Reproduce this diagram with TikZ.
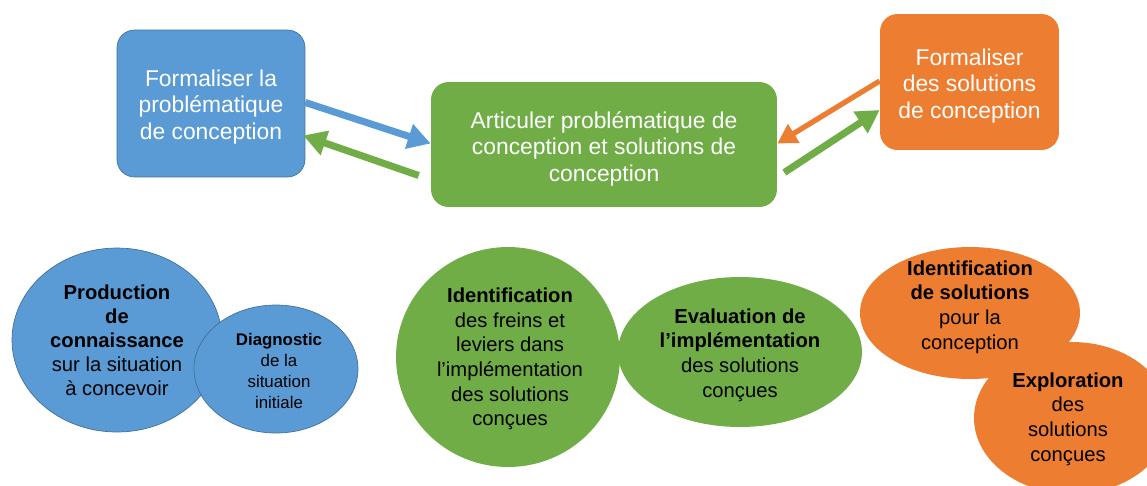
\documentclass[tikz,border=0pt]{standalone}
\usepackage{fontspec}
\setmainfont{Liberation Sans}
\usepackage{tikz}
\usetikzlibrary{shapes.geometric, arrows.meta, positioning, calc}
\definecolor{probcolor}{RGB}{91,155,213}
\definecolor{probline}{RGB}{65,113,156}
\definecolor{articolor}{RGB}{112,173,71}
\definecolor{solcolor}{RGB}{237,125,49}

\begin{document}
\begin{tikzpicture}[
    x=0.02cm, y=-0.02cm,
    task/.style={rounded corners=10pt, text=white, align=center, font=\fontsize{13}{15}\selectfont},
    bubble/.style={ellipse, inner sep=0pt},
    bubtext/.style={align=center, font=\fontsize{11.5}{14}\selectfont},
    flow/.style={line width=4pt, -{Triangle[length=13pt,width=14pt]}},
    thinflow/.style={line width=3pt, -{Triangle[length=11pt,width=12pt]}}
]
    \useasboundingbox (0,0) rectangle (1147,485);
    \clip (0,0) rectangle (1147,485);

    % Tasks
    \node[task, draw=probline, fill=probcolor, minimum width=3.76cm, minimum height=2.94cm] (prob) at (211,103.5) {\rule{0pt}{13.5pt}Formaliser la\\probl\'ematique\\de conception};
    \node[task, fill=articolor, minimum width=6.92cm, minimum height=2.5cm] (arti) at (604,144.5) {\rule{0pt}{14.5pt}Articuler probl\'ematique de\\conception et solutions de\\conception};
    \node[task, fill=solcolor, minimum width=3.58cm, minimum height=2.72cm] (sol) at (969.5,82) {\rule{0pt}{14pt}Formaliser\\des solutions\\de conception};

    % Arrows
    \draw[flow, probcolor] ($(prob.east)+(0,-1)$) -- ($(arti.west)+(0,-1)$);
    \draw[flow, articolor] ($(arti.west)+(-12,31)$) -- ($(prob.east)+(-2,32)$);
    \draw[thinflow, solcolor] ($(sol.west)+(0,-1)$) -- ($(arti.east)+(0,-1)$);
    \draw[flow, articolor] ($(arti.east)+(7,28)$) -- ($(sol.west)+(0,28)$);

    % Problematique
    \node[bubble, draw=probline, fill=probcolor, minimum width=4.2cm, minimum height=3.68cm] (prod) at (117,340) {};
    \node[bubtext, font=\fontsize{11.5}{13.7}\selectfont] at (prod) {\textbf{Production}\\\textbf{de}\\\textbf{connaissance}\\sur la situation\\\`a concevoir};
    \node[bubble, draw=probline, fill=probcolor, minimum width=3.28cm, minimum height=2.56cm] (diag) at (276,369) {};
    \node[bubtext, font=\fontsize{9.6}{12}\selectfont] at ($(diag)+(3,2)$) {\textbf{Diagnostic}\\de la\\situation\\initiale};

    % Articulation
    \node[bubble, fill=articolor, minimum width=4.48cm, minimum height=4.4cm] (freins) at (508,357) {};
    \node[bubtext] at ($(freins)+(2,2)$) {\textbf{Identification}\\des freins et\\leviers dans\\l’impl\'ementation\\des solutions\\con\c{c}ues};
    \node[bubble, fill=articolor, minimum width=4.88cm, minimum height=3.0cm] (eval) at (740,352) {};
    \node[bubtext] at ($(eval)+(0,3)$) {\textbf{Evaluation de}\\\textbf{l’impl\'ementation}\\des solutions\\con\c{c}ues};

    % Solutions
    \node[bubble, fill=solcolor, minimum width=4.4cm, minimum height=2.64cm] (idsol) at (970,313) {};
    \node[bubtext] at ($(idsol)+(0,-6)$) {\textbf{Identification}\\\textbf{de solutions}\\pour la\\conception};
    \node[bubble, fill=solcolor, minimum width=3.92cm, minimum height=3.04cm] (explo) at (1072,418) {};
    \node[bubtext] at ($(explo)+(-4,1)$) {\textbf{Exploration}\\des\\solutions\\con\c{c}ues};
\end{tikzpicture}
\end{document}
